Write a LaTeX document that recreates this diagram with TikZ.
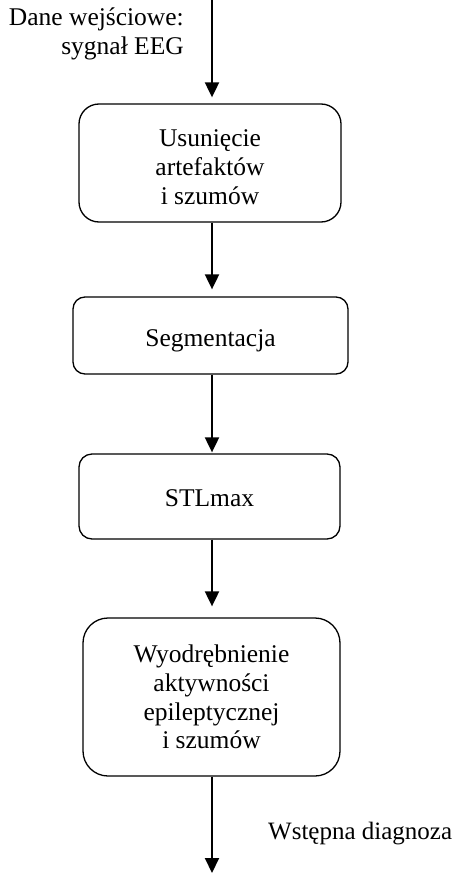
\documentclass[tikz,border=0pt]{standalone}
\usepackage{fontspec}
\setmainfont{Liberation Serif}
\usetikzlibrary{arrows.meta}
% centred lines of a stage, lowered inside their box by #1
\newcommand\stagelines[2]{\raisebox{-#1}[\height][\depth]{\begin{tabular}{@{}c@{}}#2\end{tabular}}}
\begin{document}
\begin{tikzpicture}[x=1pt,y=-1pt,
  txt/.style={font=\fontsize{25.5}{28.7}\selectfont},
  stagebox/.style={draw, line width=1.3pt, rounded corners=#1, inner sep=0pt, txt},
  flow/.style={line width=2pt, -{Triangle[width=14pt,length=15pt]}},
  lbl/.style={txt, inner sep=0pt}]
\useasboundingbox (0,0) rectangle (456,875);

% processing stages
\node[stagebox=20pt, minimum width=262pt, minimum height=118pt] (b1) at (210,163)
  {\stagelines{6.7pt}{Usunięcie\\artefaktów\\i szumów}};
\node[stagebox=12pt, minimum width=275pt, minimum height=77pt] (b2) at (210.5,335.5)
  {\stagelines{5.5pt}{Segmentacja}};
\node[stagebox=13pt, minimum width=261pt, minimum height=85pt] (b3) at (209.5,496.5)
  {\stagelines{4.5pt}{STLmax}};
\node[stagebox=25pt, minimum width=257pt, minimum height=158pt] (b4) at (211.5,697)
  {\stagelines{3pt}{Wyodrębnienie\\aktywności\\epileptycznej\\i szumów}};

% input and output ends of the flow axis
\coordinate (in) at (212,0);
\coordinate (out) at (212,873);

% connectors
\draw[flow, shorten >=6pt] (in) -- (b1.north -| in);
\draw[flow, shorten >=7pt] (b1.south -| in) -- (b2.north -| in);
\draw[flow, shorten >=1pt] (b2.south -| in) -- (b3.north -| in);
\draw[flow, shorten >=11pt] (b3.south -| in) -- (b4.north -| in);
\draw[flow] (b4.south -| in) -- (out);

% labels
\node[lbl, anchor=base east] (inlbl) at (184,26)
  {\begin{tabular}[t]{@{}r@{}}Dane wejściowe:\\sygnał EEG\end{tabular}};
\node[lbl, anchor=base west, font=\fontsize{25}{28.7}\selectfont] (outlbl) at (268,839)
  {Wstępna diagnoza};
\end{tikzpicture}
\end{document}
